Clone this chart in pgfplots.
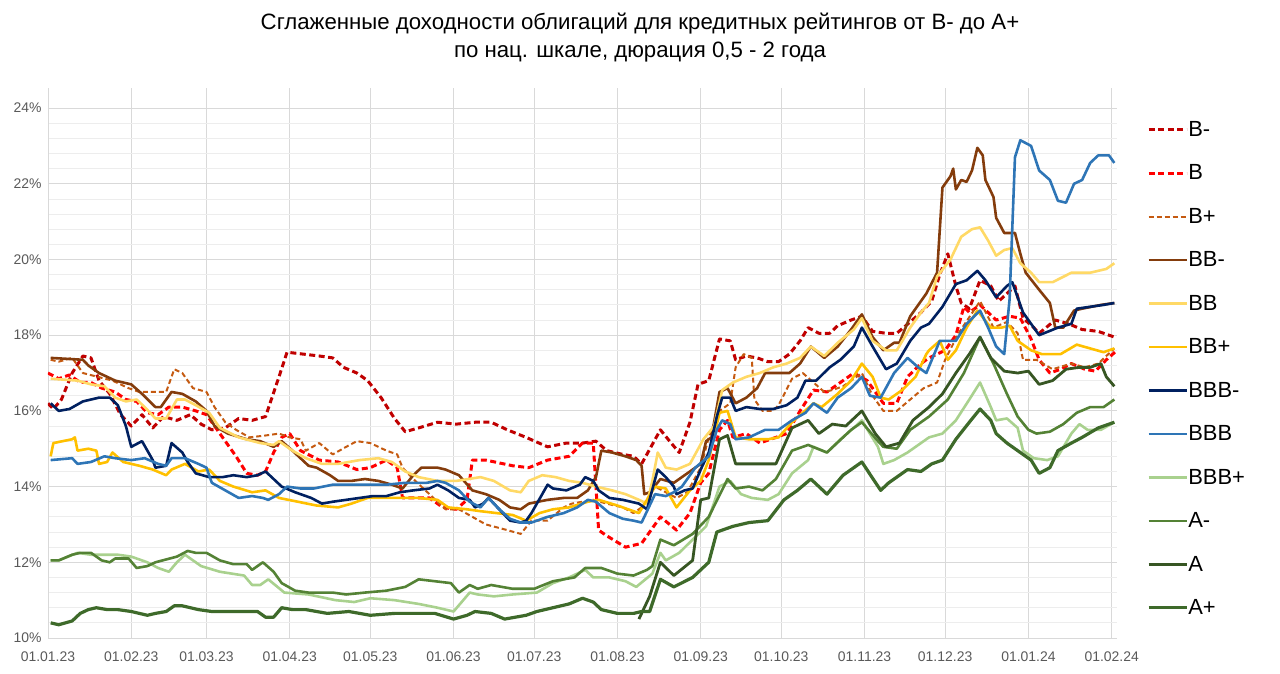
\documentclass[border=0pt]{standalone}
\usepackage{pgfplots}
\pgfplotsset{compat=1.18}
\usepackage{fontspec}
\setmainfont{Liberation Sans}
\definecolor{cBm}{HTML}{C00000}
\definecolor{cB}{HTML}{FF0000}
\definecolor{cBp}{HTML}{C55A11}
\definecolor{cBBm}{HTML}{843C0C}
\definecolor{cBB}{HTML}{FFD966}
\definecolor{cBBp}{HTML}{FFC000}
\definecolor{cBBBm}{HTML}{002060}
\definecolor{cBBB}{HTML}{2E75B6}
\definecolor{cBBBp}{HTML}{A9D18E}
\definecolor{cAm}{HTML}{548235}
\definecolor{cA}{HTML}{375623}
\definecolor{cAp}{HTML}{3E6A2A}
\definecolor{gridc}{HTML}{D9D9D9}
\definecolor{mgridc}{HTML}{EDEDED}
\definecolor{tickc}{HTML}{595959}
\begin{document}
\begin{tikzpicture}
\begin{axis}[
  at={(0pt,0pt)}, anchor=south west,
  scale only axis, width=1069bp, height=550bp,
  xmin=0, xmax=398, ymin=10, ymax=24.53,
  axis x line*=bottom, axis y line*=left,
  axis line style={draw=gridc, line width=0.8bp},
  major tick length=0pt, minor tick length=0pt,
  xtick={0,31,59,90,120,151,181,212,243,273,304,334,365,396},
  xticklabels={01.01.23,01.02.23,01.03.23,01.04.23,01.05.23,01.06.23,01.07.23,01.08.23,01.09.23,01.10.23,01.11.23,01.12.23,01.01.24,01.02.24},
  ytick={10,12,...,24},
  yticklabels={10\%,12\%,14\%,16\%,18\%,20\%,22\%,24\%},
  minor y tick num=4,
  xmajorgrids, ymajorgrids, yminorgrids,
  major grid style={draw=gridc, line width=0.8bp},
  minor grid style={draw=mgridc, line width=0.8bp},
  ticklabel style={font=\fontsize{14}{14}\selectfont, text=tickc},
  xticklabel style={yshift=-10bp},
  yticklabel style={xshift=-3bp},
  legend style={draw=none, fill=none, at={(1.0281,0.9395)}, anchor=north west,
    font=\fontsize{22}{22}\selectfont, row sep=26.9bp, inner sep=0pt, outer sep=0pt,
    nodes={inner sep=0pt, outer sep=0pt},
    /tikz/every even column/.append style={column sep=3bp}},
  legend cell align=left,
  legend image code/.code={\draw[#1] (0bp,0bp) -- (38bp,0bp);},
  every axis plot/.append style={line join=round, mark=none},
]
% B-
\addplot[cBm, line width=3bp, dash pattern=on 6bp off 3.5bp] coordinates {
(0,16.2)(2,16.05)(5,16.3)(9,17.0)(13,17.45)(16,17.4)(19,16.8)(23,16.45)(27,15.9)(31,15.6)(35,15.9)(39,15.55)(43,15.85)(48,15.75)(53,15.9)(57,15.65)(61,15.5)(66,15.55)(71,15.8)(76,15.75)(81,15.85)(86,16.9)(89,17.55)(95,17.5)(101,17.45)(106,17.4)(110,17.15)(115,17.0)(119,16.8)(124,16.35)(129,15.8)(133,15.45)(138,15.55)(145,15.7)(152,15.65)(159,15.7)(165,15.7)(171,15.5)(178,15.3)(186,15.05)(193,15.15)(199,15.15)(204,15.2)(208,14.95)(214,14.85)(218,14.8)(221,14.6)(228,15.5)(232,15.15)(235,14.9)(239,15.7)(242,16.7)(246,16.8)(250,17.9)(254,17.85)(256,17.35)(260,17.45)(264,17.4)(268,17.3)(272,17.3)(276,17.5)(280,17.85)(283,18.2)(287,18.05)(291,18.05)(294,18.25)(299,18.4)(303,18.5)(307,18.1)(312,18.05)(316,18.05)(321,18.35)(325,18.6)(329,18.9)(332,19.6)(335,20.15)(338,19.3)(340,18.85)(343,18.7)(347,19.45)(351,19.3)(354,18.9)(357,19.1)(360,19.3)(363,18.45)(367,18.2)(369,18.05)(375,18.4)(380,18.3)(385,18.15)(391,18.1)(397,17.95)
};
\addlegendentry{B-}
% B
\addplot[cB, line width=3bp, dash pattern=on 6bp off 3.5bp] coordinates {
(0,17.0)(4,16.85)(8,16.95)(12,16.75)(16,16.75)(20,16.6)(25,16.5)(29,16.3)(33,16.25)(37,15.95)(41,15.9)(45,16.1)(50,16.1)(55,16.0)(59,15.9)(62,15.6)(66,15.2)(70,14.8)(74,14.35)(78,14.3)(81,14.4)(84,14.9)(87,15.3)(90,15.4)(94,14.95)(101,14.7)(108,14.65)(115,14.45)(120,14.5)(126,14.7)(130,14.5)(132,13.7)(136,13.7)(142,13.7)(147,13.45)(152,13.4)(156,13.65)(158,14.7)(163,14.7)(173,14.55)(179,14.5)(186,14.7)(194,14.8)(199,15.15)(203,15.15)(205,12.85)(208,12.7)(215,12.4)(221,12.5)(228,13.2)(234,12.85)(239,13.3)(243,14.1)(246,14.35)(250,15.5)(253,15.75)(255,15.3)(260,15.4)(265,15.15)(269,15.25)(275,15.4)(280,16.0)(285,16.55)(290,16.5)(295,16.75)(300,17.0)(305,16.8)(311,16.2)(316,16.2)(320,16.9)(325,17.25)(328,17.4)(334,17.6)(338,18.0)(341,18.75)(343,18.6)(347,18.8)(353,18.4)(358,18.5)(362,18.45)(366,17.9)(369,17.35)(373,17.0)(377,17.1)(381,17.25)(386,17.1)(390,17.05)(394,17.35)(398,17.6)
};
\addlegendentry{B}
% B+
\addplot[cBp, line width=2bp, dash pattern=on 5bp off 3bp] coordinates {
(1,17.35)(4,17.3)(9,17.4)(13,17.0)(24,16.8)(30,16.6)(34,16.5)(40,16.5)(44,16.5)(47,17.1)(50,17.0)(54,16.6)(59,16.5)(62,16.1)(66,15.7)(70,15.5)(75,15.3)(81,15.35)(86,15.4)(90,15.3)(94,15.25)(96,14.95)(101,15.15)(106,14.85)(111,15.05)(115,15.2)(120,15.15)(126,14.95)(130,14.85)(132,14.5)(136,14.2)(142,13.8)(148,13.4)(153,13.4)(158,13.2)(163,13.0)(171,12.85)(176,12.75)(180,13.1)(186,13.1)(192,13.45)(195,13.55)(203,13.65)(208,13.55)(214,13.45)(218,13.3)(221,13.45)(226,14.0)(230,13.85)(234,13.7)(238,13.85)(243,14.5)(246,15.3)(249,15.85)(250,16.0)(254,16.2)(256,17.15)(259,17.5)(262,17.4)(263,16.3)(266,16.0)(270,16.0)(272,16.15)(277,16.85)(281,17.0)(285,16.75)(289,16.5)(292,16.55)(296,16.65)(301,16.9)(303,17.0)(307,16.4)(311,16.0)(316,16.0)(321,16.3)(326,16.6)(331,16.75)(334,17.35)(339,18.05)(347,18.9)(352,18.2)(357,18.35)(361,18.05)(363,17.35)(368,17.35)(374,17.1)(381,17.25)(386,17.15)(391,17.25)(397,17.65)
};
\addlegendentry{B+}
% BB-
\addplot[cBBm, line width=2.6bp] coordinates {
(1,17.4)(13,17.35)(15,17.2)(19,17.0)(25,16.8)(31,16.7)(35,16.45)(40,16.1)(42,16.1)(46,16.5)(50,16.45)(55,16.25)(59,16.0)(62,15.6)(67,15.4)(74,15.25)(79,15.2)(84,15.05)(87,15.2)(91,14.95)(94,14.75)(97,14.55)(100,14.5)(105,14.3)(108,14.15)(113,14.15)(118,14.2)(123,14.15)(128,14.05)(132,13.95)(136,14.3)(139,14.5)(145,14.5)(148,14.45)(153,14.3)(158,13.9)(163,13.8)(168,13.65)(172,13.45)(176,13.4)(179,13.55)(186,13.65)(192,13.7)(197,13.7)(201,13.9)(204,14.25)(206,14.95)(210,14.9)(215,14.8)(219,14.7)(221,14.55)(222,13.8)(224,13.85)(228,14.2)(233,14.1)(238,14.35)(243,14.6)(245,15.2)(247,15.3)(250,16.5)(253,16.6)(256,16.2)(260,16.35)(264,16.6)(267,17.0)(271,17.0)(276,17.0)(280,17.25)(284,17.7)(289,17.4)(294,17.7)(299,18.15)(303,18.55)(307,17.95)(311,17.6)(315,17.8)(317,17.8)(321,18.5)(324,18.8)(327,19.1)(331,19.65)(333,21.9)(336,22.2)(337,22.4)(338,21.85)(340,22.1)(342,22.05)(344,22.35)(346,22.95)(348,22.75)(349,22.1)(352,21.65)(353,21.1)(356,20.7)(360,20.7)(362,20.15)(364,19.65)(369,19.2)(373,18.85)(375,18.2)(378,18.2)(382,18.65)(385,18.7)(392,18.8)(397,18.85)
};
\addlegendentry{BB-}
% BB
\addplot[cBB, line width=2.6bp] coordinates {
(1,16.85)(11,16.8)(16,16.7)(21,16.65)(25,16.35)(29,16.25)(33,16.3)(36,16.1)(40,15.8)(44,15.8)(48,16.3)(51,16.3)(55,16.15)(60,15.95)(64,15.55)(71,15.3)(79,15.15)(84,15.1)(86,15.2)(91,14.95)(96,14.75)(102,14.6)(108,14.6)(116,14.7)(123,14.75)(128,14.65)(133,14.4)(138,14.25)(145,14.15)(152,14.15)(161,14.25)(166,14.15)(172,13.9)(176,13.85)(179,14.15)(184,14.3)(189,14.25)(194,14.15)(199,14.1)(204,14.0)(210,13.9)(215,13.8)(220,13.65)(223,13.55)(225,14.15)(227,14.9)(230,14.5)(234,14.45)(239,14.6)(244,15.25)(248,15.6)(251,16.55)(255,16.75)(260,16.9)(265,17.0)(270,17.15)(275,17.25)(280,17.4)(284,17.7)(289,17.45)(294,17.8)(300,18.15)(303,18.45)(307,17.85)(312,17.6)(316,17.6)(321,18.2)(325,18.6)(328,18.85)(331,19.55)(336,20.0)(340,20.6)(344,20.8)(347,20.85)(350,20.5)(353,20.1)(356,20.25)(359,20.3)(362,19.9)(366,19.65)(369,19.4)(374,19.4)(381,19.65)(388,19.65)(394,19.75)(397,19.9)
};
\addlegendentry{BB}
% BB+
\addplot[cBBp, line width=2.6bp] coordinates {
(1,14.8)(2,15.15)(9,15.25)(10,15.3)(11,14.95)(15,15.0)(18,14.95)(19,14.6)(22,14.65)(24,14.9)(28,14.65)(34,14.55)(39,14.45)(44,14.3)(46,14.45)(51,14.6)(56,14.4)(60,14.45)(64,14.15)(69,14.0)(76,13.85)(81,13.9)(86,13.7)(93,13.6)(100,13.5)(108,13.45)(113,13.55)(119,13.7)(127,13.7)(134,13.7)(138,13.7)(145,13.65)(149,13.45)(156,13.4)(161,13.35)(167,13.3)(173,13.25)(178,13.1)(183,13.3)(188,13.4)(194,13.45)(201,13.6)(205,13.65)(212,13.5)(220,13.3)(226,14.0)(230,13.95)(234,13.45)(239,13.9)(243,14.15)(246,14.7)(250,15.95)(253,16.0)(256,15.3)(261,15.25)(268,15.25)(272,15.3)(277,15.7)(281,15.95)(285,16.2)(288,16.1)(294,16.45)(299,16.8)(303,17.25)(307,16.9)(310,16.35)(313,16.3)(318,16.55)(323,16.9)(327,17.5)(328,17.6)(332,17.85)(335,17.35)(338,17.6)(342,18.2)(346,18.65)(351,18.2)(355,18.2)(358,18.25)(361,17.85)(366,17.6)(370,17.5)(377,17.5)(383,17.75)(388,17.65)(393,17.55)(397,17.65)
};
\addlegendentry{BB+}
% BBB-
\addplot[cBBBm, line width=2.6bp] coordinates {
(1,16.2)(4,16.0)(8,16.05)(13,16.25)(16,16.3)(19,16.35)(23,16.35)(26,16.15)(29,15.6)(31,15.05)(35,15.2)(39,14.7)(40,14.5)(44,14.55)(46,15.15)(50,14.9)(52,14.65)(55,14.35)(60,14.25)(65,14.25)(69,14.3)(74,14.25)(78,14.3)(81,14.4)(84,14.2)(87,14.0)(92,13.85)(98,13.7)(102,13.55)(106,13.6)(111,13.65)(116,13.7)(121,13.75)(126,13.75)(131,13.85)(136,13.9)(142,13.95)(145,14.05)(149,13.9)(153,13.7)(157,13.65)(159,13.45)(162,13.55)(164,13.7)(168,13.4)(172,13.1)(176,13.05)(178,13.1)(180,13.3)(186,14.05)(188,13.95)(193,13.9)(198,14.05)(200,14.25)(203,14.15)(205,13.9)(209,13.7)(214,13.65)(220,13.55)(223,13.4)(227,14.45)(230,14.25)(233,14.0)(234,13.8)(237,13.9)(240,13.95)(243,14.45)(246,14.9)(249,15.85)(251,16.35)(254,16.35)(256,16.0)(260,16.1)(265,16.05)(270,16.05)(275,16.15)(279,16.35)(282,16.8)(286,16.8)(291,17.15)(295,17.35)(300,17.7)(303,18.2)(307,17.7)(312,17.1)(316,17.25)(321,17.85)(325,18.2)(328,18.3)(333,18.75)(338,19.35)(342,19.45)(346,19.7)(349,19.45)(353,19.0)(357,19.3)(359,19.4)(363,18.6)(369,18.0)(376,18.2)(381,18.3)(383,18.7)(388,18.75)(393,18.8)(397,18.85)
};
\addlegendentry{BBB-}
% BBB
\addplot[cBBB, line width=2.6bp] coordinates {
(1,14.7)(9,14.75)(11,14.6)(16,14.65)(21,14.8)(25,14.75)(31,14.7)(36,14.75)(41,14.6)(44,14.55)(46,14.75)(51,14.75)(56,14.6)(59,14.5)(61,14.1)(66,13.9)(71,13.7)(76,13.75)(80,13.7)(82,13.65)(86,13.8)(89,14.0)(94,13.95)(99,13.95)(106,14.05)(111,14.05)(118,14.05)(126,14.05)(133,14.1)(141,14.1)(145,14.15)(148,14.1)(153,13.9)(157,13.6)(161,13.45)(164,13.7)(168,13.4)(172,13.15)(176,13.05)(180,13.05)(186,13.2)(192,13.3)(197,13.45)(201,13.65)(204,13.6)(209,13.3)(214,13.15)(218,13.1)(221,13.05)(226,13.8)(230,13.75)(233,13.85)(236,14.0)(241,14.5)(246,14.8)(249,15.5)(251,15.75)(254,15.65)(256,15.25)(261,15.3)(267,15.5)(272,15.5)(277,15.75)(282,15.95)(285,16.2)(290,15.95)(294,16.35)(299,16.6)(303,16.9)(306,16.4)(310,16.35)(315,17.0)(320,17.4)(324,17.15)(327,17.0)(332,17.85)(338,17.85)(342,18.3)(347,18.65)(350,18.2)(353,17.7)(356,17.5)(358,18.95)(360,22.7)(362,23.15)(366,23.0)(369,22.35)(373,22.1)(376,21.55)(379,21.5)(382,22.0)(385,22.1)(388,22.55)(391,22.75)(395,22.75)(397,22.55)
};
\addlegendentry{BBB}
% BBB+
\addplot[cBBBp, line width=2.6bp] coordinates {
(1,12.05)(4,12.05)(11,12.25)(16,12.2)(26,12.2)(31,12.15)(37,12.0)(41,11.85)(45,11.75)(48,12.0)(51,12.2)(57,11.9)(64,11.75)(73,11.65)(76,11.4)(79,11.4)(82,11.55)(88,11.2)(97,11.15)(107,11.0)(114,10.95)(120,11.05)(129,11.0)(138,10.9)(145,10.8)(151,10.7)(154,10.95)(157,11.2)(160,11.15)(166,11.1)(173,11.15)(182,11.2)(188,11.45)(194,11.6)(200,11.8)(203,11.6)(209,11.6)(215,11.5)(219,11.35)(225,11.7)(228,12.25)(230,12.05)(235,12.25)(240,12.6)(245,12.95)(250,14.0)(254,14.15)(258,13.8)(262,13.7)(268,13.65)(272,13.8)(277,14.35)(283,14.7)(285,15.05)(290,14.9)(295,15.25)(300,15.55)(303,15.75)(309,15.05)(311,14.6)(315,14.7)(320,14.9)(325,15.15)(328,15.3)(333,15.4)(338,15.75)(343,16.3)(347,16.75)(351,16.1)(353,15.75)(357,15.8)(361,15.55)(363,14.95)(367,14.75)(372,14.7)(376,14.8)(381,15.4)(384,15.65)(387,15.5)(392,15.5)(397,15.7)
};
\addlegendentry{BBB+}
% A-
\addplot[cAm, line width=2.6bp] coordinates {
(1,12.05)(4,12.05)(9,12.2)(12,12.25)(16,12.25)(20,12.05)(23,12.0)(25,12.1)(30,12.1)(33,11.85)(37,11.9)(40,12.0)(48,12.15)(52,12.3)(55,12.25)(59,12.25)(64,12.05)(69,11.95)(74,11.95)(76,11.8)(80,12.0)(84,11.75)(87,11.45)(92,11.25)(97,11.2)(101,11.2)(106,11.2)(111,11.15)(118,11.2)(126,11.25)(133,11.35)(138,11.55)(150,11.45)(153,11.2)(157,11.4)(160,11.3)(165,11.4)(173,11.3)(181,11.3)(188,11.5)(196,11.6)(200,11.85)(206,11.85)(212,11.7)(218,11.65)(223,11.8)(225,11.9)(228,12.6)(233,12.45)(240,12.75)(246,13.2)(253,14.2)(256,13.95)(261,14.0)(266,13.9)(271,14.2)(277,14.95)(283,15.1)(290,14.9)(299,15.5)(303,15.7)(309,15.2)(311,15.05)(316,15.0)(321,15.5)(328,15.85)(335,16.3)(341,17.0)(347,17.95)(352,17.25)(357,16.45)(361,15.85)(365,15.5)(368,15.4)(373,15.45)(378,15.65)(383,15.95)(388,16.1)(393,16.1)(397,16.3)
};
\addlegendentry{A-}
% A
\addplot[cA, line width=2.8bp] coordinates {
(220,10.5)(224,11.1)(228,12.0)(233,11.65)(240,12.05)(243,13.65)(246,13.7)(250,15.25)(253,15.35)(256,14.6)(261,14.6)(266,14.6)(271,14.6)(277,15.55)(283,15.75)(287,15.4)(292,15.65)(297,15.6)(303,16.0)(308,15.4)(312,15.05)(317,15.15)(322,15.75)(328,16.1)(333,16.45)(338,17.0)(343,17.5)(347,17.95)(351,17.4)(356,17.05)(361,17.0)(365,17.05)(369,16.7)(374,16.8)(379,17.1)(384,17.15)(388,17.15)(392,17.25)(394,16.9)(397,16.65)
};
\addlegendentry{A}
% A+
\addplot[cAp, line width=3.2bp] coordinates {
(1,10.4)(4,10.35)(9,10.45)(12,10.65)(15,10.75)(18,10.8)(22,10.75)(26,10.75)(31,10.7)(37,10.6)(40,10.65)(44,10.7)(47,10.85)(50,10.85)(53,10.8)(56,10.75)(61,10.7)(66,10.7)(73,10.7)(78,10.7)(81,10.55)(84,10.55)(87,10.8)(91,10.75)(96,10.75)(104,10.65)(112,10.7)(120,10.6)(129,10.65)(138,10.65)(144,10.65)(151,10.5)(156,10.6)(159,10.7)(165,10.65)(170,10.5)(178,10.6)(182,10.7)(188,10.8)(194,10.9)(199,11.05)(203,10.95)(206,10.75)(212,10.65)(218,10.65)(221,10.7)(224,10.7)(228,11.55)(233,11.35)(240,11.6)(246,12.0)(249,12.8)(255,12.95)(261,13.05)(268,13.1)(274,13.65)(279,13.9)(284,14.2)(290,13.8)(296,14.3)(303,14.65)(310,13.9)(313,14.1)(320,14.45)(325,14.4)(329,14.6)(333,14.7)(338,15.25)(343,15.7)(347,16.05)(351,15.75)(353,15.4)(357,15.15)(362,14.9)(366,14.7)(369,14.35)(373,14.5)(376,14.95)(381,15.15)(385,15.3)(391,15.55)(397,15.7)
};
\addlegendentry{A+}
\end{axis}
\node[anchor=base,font=\fontsize{22.3}{22.3}\selectfont,text=black] at (592bp,608.5bp) {Сглаженные доходности облигаций для кредитных рейтингов от B- до A+};
\node[anchor=base,font=\fontsize{22.3}{22.3}\selectfont,text=black] at (592bp,580.5bp) {по нац. шкале, дюрация 0,5 - 2 года};
\pgfresetboundingbox
\path[use as bounding box] (-48bp,-36bp) rectangle (1232bp,638bp);
\end{tikzpicture}
\end{document}
